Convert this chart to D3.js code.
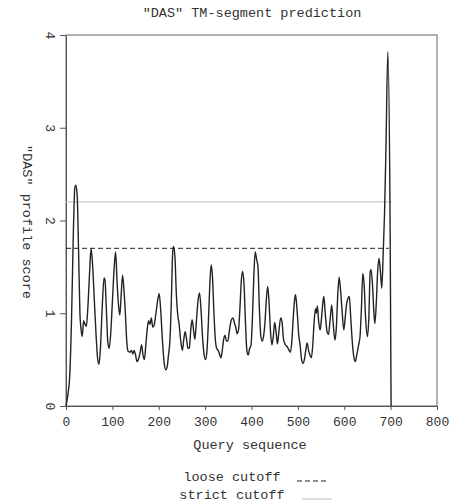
<!DOCTYPE html>
<html lang="en">

<head>
    <meta charset="utf-8">
    <title>DAS TM-segment prediction</title>
    <script type="text/javascript" src="https://cdn.jsdelivr.net/npm/d3@7"></script>
    <style>
        body {
            margin: 0;
            background: #fff;
        }

        text {
            font-family: "Courier New", "Liberation Mono", monospace;
            fill: #333;
        }
    </style>
</head>

<body>
    <script type="text/javascript">
        // Data -----------------------------------------------------
        var positions = [0, 4, 8, 12, 16, 19, 21, 24, 27, 30, 32, 35, 38, 41, 44, 47, 51, 54, 57, 61,
            65, 68, 71, 74, 78, 82, 84, 87, 90, 93, 96, 100, 104, 107, 110, 113, 116, 119, 122, 125,
            128, 131, 134, 138, 141, 144, 147, 150, 153, 156, 160, 163, 166, 169, 172, 175, 178, 181, 184, 187,
            190, 194, 198, 201, 204, 208, 212, 215, 218, 221, 224, 227, 230, 232, 235, 238, 241, 244, 247, 251,
            254, 257, 260, 263, 266, 269, 272, 275, 278, 281, 285, 288, 291, 295, 298, 301, 304, 307, 310, 313,
            316, 319, 322, 325, 328, 331, 334, 337, 340, 343, 346, 349, 352, 356, 360, 363, 366, 369, 372, 375,
            378, 381, 384, 387, 390, 393, 396, 399, 402, 405, 408, 411, 414, 417, 420, 423, 426, 429, 432, 435,
            438, 441, 444, 447, 450, 453, 456, 459, 463, 466, 469, 473, 477, 481, 484, 487, 490, 493, 495, 498,
            502, 505, 508, 511, 514, 517, 520, 523, 526, 529, 532, 535, 538, 540, 542, 545, 548, 551, 554, 556,
            559, 563, 566, 569, 573, 576, 580, 583, 586, 589, 592, 595, 599, 602, 605, 608, 611, 614, 618, 621,
            624, 627, 631, 634, 637, 640, 643, 646, 650, 653, 656, 658, 661, 664, 666, 669, 672, 675, 678, 681,
            684, 687, 690, 694, 699, 701];

        var scores = [0, 0.12, 0.32, 0.95, 1.9, 2.35, 2.38, 2.28, 1.7, 1.0, 0.85, 0.75, 0.92, 0.88, 0.86, 1.05, 1.45, 1.70, 1.55, 1.15,
            0.75, 0.52, 0.45, 0.6, 1.05, 1.38, 1.36, 1.05, 0.7, 0.62, 0.75, 1.12, 1.5, 1.66, 1.35, 1.1, 0.98, 1.2, 1.41, 1.25,
            1.0, 0.7, 0.59, 0.58, 0.6, 0.56, 0.6, 0.55, 0.48, 0.5, 0.58, 0.66, 0.55, 0.5, 0.65, 0.82, 0.92, 0.88, 0.95, 0.85,
            0.87, 1.0, 1.15, 1.21, 1.05, 0.7, 0.45, 0.39, 0.42, 0.55, 0.7, 1.1, 1.65, 1.72, 1.6, 1.2, 0.98, 0.88, 0.72, 0.6,
            0.72, 0.8, 0.72, 0.62, 0.63, 0.82, 0.93, 0.82, 0.72, 0.9, 1.15, 1.22, 1.05, 0.7, 0.55, 0.5, 0.6, 0.9, 1.3, 1.52,
            1.38, 1.0, 0.72, 0.62, 0.6, 0.56, 0.52, 0.6, 0.72, 0.76, 0.7, 0.7, 0.8, 0.92, 0.95, 0.9, 0.85, 0.78, 0.82, 1.05,
            1.35, 1.45, 1.3, 0.9, 0.6, 0.55, 0.62, 0.66, 0.95, 1.4, 1.66, 1.58, 1.5, 1.05, 0.76, 0.7, 0.75, 0.9, 1.15, 1.29,
            1.1, 0.8, 0.66, 0.75, 0.9, 0.8, 0.67, 0.8, 0.95, 0.9, 0.72, 0.66, 0.64, 0.6, 0.58, 0.7, 0.95, 1.15, 1.2, 1.05,
            0.76, 0.65, 0.5, 0.46, 0.5, 0.6, 0.68, 0.6, 0.55, 0.52, 0.65, 0.9, 1.05, 1.0, 1.08, 0.9, 0.82, 0.95, 1.12, 1.18,
            1.0, 0.8, 0.77, 0.9, 1.09, 0.9, 0.71, 0.85, 1.2, 1.39, 1.25, 1.05, 0.82, 0.95, 1.1, 1.16, 1.18, 0.95, 0.65, 0.52,
            0.48, 0.55, 0.66, 0.75, 1.05, 1.43, 1.3, 0.95, 0.75, 0.95, 1.45, 1.47, 1.3, 1.0, 0.89, 1.1, 1.45, 1.59, 1.45, 1.27,
            1.65, 2.1, 2.8, 3.82, 1.85, 0];

        var seqLength = 702;
        var looseCutoff = 1.7;
        var strictCutoff = 2.2;
        var xTicks = [0, 100, 200, 300, 400, 500, 600, 700, 800];
        var yTicks = [0, 1, 2, 3, 4];

        //Width and height
        var w = 458;
        var h = 504;
        var margin = { top: 35, right: 21, bottom: 98, left: 66 };

        var dataset = positions.map(function(p, i) {
            return [p, scores[i]];
        });

        // Scales ------------------------------------------------
        var xScale = d3.scaleLinear()
            .domain([0, 800])
            .range([margin.left, w - margin.right]);

        var yScale = d3.scaleLinear()
            .domain([0, 4])
            .range([h - margin.bottom, margin.top]);

        var svg = d3.select("body")
            .append("svg")
            .attr("width", w)
            .attr("height", h);

        // Frame
        svg.append("rect")
            .attr("x", xScale(0))
            .attr("y", yScale(4))
            .attr("width", xScale(800) - xScale(0))
            .attr("height", yScale(0) - yScale(4))
            .attr("fill", "none")
            .attr("stroke", "#666")
            .attr("stroke-width", 1);

        // Axes
        var xAxis = d3.axisBottom(xScale)
            .tickValues(xTicks)
            .tickSize(4)
            .tickSizeOuter(0)
            .tickPadding(7);

        var gx = svg.append("g")
            .attr("transform", "translate(0," + yScale(0) + ")")
            .call(xAxis);
        gx.selectAll("line, path").attr("stroke", "#555");
        gx.selectAll("text")
            .attr("font-family", "'Courier New', 'Liberation Mono', monospace")
            .attr("font-size", "13px")
            .attr("fill", "#333");

        var yAxis = d3.axisLeft(yScale)
            .tickValues(yTicks)
            .tickFormat(d3.format("d"))
            .tickSize(6)
            .tickSizeOuter(0);

        var gy = svg.append("g")
            .attr("transform", "translate(" + xScale(0) + ",0)")
            .call(yAxis);
        gy.selectAll("line, path").attr("stroke", "#555");
        gy.selectAll("text")
            .attr("x", null)
            .attr("dy", null)
            .attr("transform", "translate(-17,0) rotate(90)")
            .attr("text-anchor", "middle")
            .attr("dominant-baseline", "central")
            .attr("font-family", "'Courier New', 'Liberation Mono', monospace")
            .attr("font-size", "13px")
            .attr("fill", "#333");

        // Cutoff lines
        svg.append("line")
            .attr("x1", xScale(0))
            .attr("x2", xScale(seqLength))
            .attr("y1", yScale(strictCutoff))
            .attr("y2", yScale(strictCutoff))
            .attr("stroke", "#c8c8c8")
            .attr("stroke-width", 1.3);

        svg.append("line")
            .attr("x1", xScale(0))
            .attr("x2", xScale(seqLength - 6))
            .attr("y1", yScale(looseCutoff))
            .attr("y2", yScale(looseCutoff))
            .attr("stroke", "#222")
            .attr("stroke-width", 1)
            .attr("stroke-dasharray", "5,3");

        // Profile
        var line = d3.line()
            .x(function(d) {
                return xScale(d[0]);
            })
            .y(function(d) {
                return yScale(d[1]);
            })
            .curve(d3.curveMonotoneX);

        svg.append("path")
            .datum(dataset)
            .attr("d", line)
            .attr("fill", "none")
            .attr("stroke", "#222")
            .attr("stroke-width", 1.4);

        // Texts
        svg.append("text")
            .text("\"DAS\" TM-segment prediction")
            .attr("x", 252)
            .attr("y", 17)
            .attr("text-anchor", "middle")
            .attr("font-size", "13.5px");

        svg.append("text")
            .text("Query sequence")
            .attr("x", 250)
            .attr("y", 449)
            .attr("text-anchor", "middle")
            .attr("font-size", "13.5px");

        svg.append("text")
            .text("\"DAS\" profile score")
            .attr("transform", "translate(26,222) rotate(90)")
            .attr("text-anchor", "middle")
            .attr("dominant-baseline", "central")
            .attr("font-size", "13.5px");

        // Legend
        var legend = [
            { label: "loose cutoff", y: 481, stroke: "#222", dash: "5,3" },
            { label: "strict cutoff", y: 499, stroke: "#c8c8c8", dash: null }
        ];

        svg.selectAll("text.legend")
            .data(legend)
            .enter()
            .append("text")
            .attr("class", "legend")
            .text(function(d) {
                return d.label;
            })
            .attr("x", 232)
            .attr("y", function(d) {
                return d.y;
            })
            .attr("text-anchor", "middle")
            .attr("font-size", "13.5px");

        svg.selectAll("line.legend")
            .data(legend)
            .enter()
            .append("line")
            .attr("class", "legend")
            .attr("x1", function(d, i) {
                return i === 0 ? 297 : 302;
            })
            .attr("x2", function(d, i) {
                return i === 0 ? 328 : 332;
            })
            .attr("y1", function(d) {
                return d.y;
            })
            .attr("y2", function(d) {
                return d.y;
            })
            .attr("stroke", function(d) {
                return d.stroke;
            })
            .attr("stroke-width", 1.2)
            .attr("stroke-dasharray", function(d) {
                return d.dash;
            });
    </script>

</body>

</html>
